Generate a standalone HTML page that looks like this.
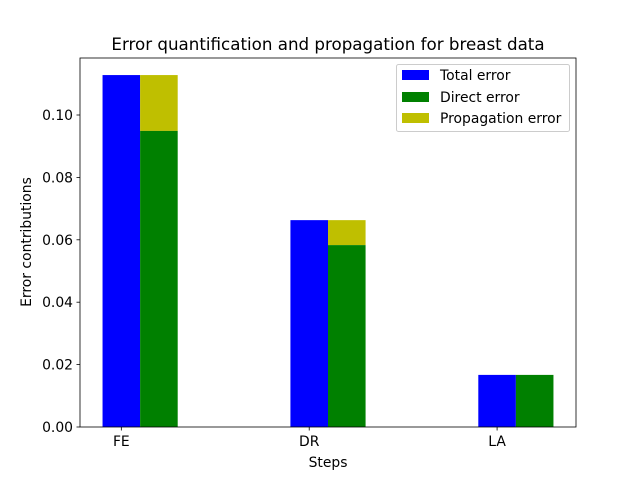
<!DOCTYPE html>
<html><head><meta charset="utf-8"><style>body{margin:0;background:#fff}svg{display:block;font-family:"DejaVu Sans","Liberation Sans",sans-serif}</style></head>
<body>
<svg id="chart" width="640" height="480" viewBox="0 0 640 480">
<rect width="640" height="480" fill="#fff"/>
<g id="bars"></g>
<g id="axes"></g>
<text x="328" y="50" font-size="16.7" text-anchor="middle">Error quantification and propagation for breast data</text>
<text x="328" y="467" font-size="13.9" text-anchor="middle">Steps</text>
<text x="31" y="242" font-size="13.9" text-anchor="middle" transform="rotate(-90 31 242)">Error contributions</text>
<g>
<rect x="396.5" y="64.5" width="173" height="67" rx="2" fill="#fff" fill-opacity="0.8" stroke="#ccc"/>
<rect x="402" y="70" width="27" height="10" fill="#0000ff"/>
<text x="440" y="80" font-size="13.9">Total error</text>
<rect x="402" y="92" width="27" height="10" fill="#008000"/>
<text x="440" y="102" font-size="13.9">Direct error</text>
<rect x="402" y="113" width="27" height="10" fill="#bfbf00"/>
<text x="440" y="123" font-size="13.9">Propagation error</text>
</g>
</svg>
<script>
const categories = ["FE","DR","LA"];
const totalError = [0.1128, 0.0663, 0.0167];
const directError = [0.0949, 0.0583, 0.0167];
const yTicks = [0.00,0.02,0.04,0.06,0.08,0.10];
const yTickLabels = ["0.00","0.02","0.04","0.06","0.08","0.10"];
const NS="http://www.w3.org/2000/svg";
const L=80,R=576,T=58,B=427;
const xMin=-0.22,xMax=2.42,yMax=(B-T)/3120;
const xs=v=>L+(v-xMin)/(xMax-xMin)*(R-L);
const ys=v=>B-v/yMax*(B-T);
const bars=document.getElementById('bars'),axes=document.getElementById('axes');
function mk(tag,a,p){const e=document.createElementNS(NS,tag);for(const k in a)e.setAttribute(k,a[k]);p.appendChild(e);return e;}
const w=0.2;
categories.forEach((c,i)=>{
  let x0=xs(i-w/2),x1=xs(i+w/2);
  let r=mk('rect',{x:x0,y:ys(totalError[i]),width:x1-x0,height:ys(0)-ys(totalError[i]),fill:'#0000ff'},bars);
  
  
  let g0=xs(i+w/2),g1=xs(i+1.5*w);
  let p=mk('rect',{x:g0,y:ys(totalError[i]),width:g1-g0,height:ys(directError[i])-ys(totalError[i]),fill:'#bfbf00'},bars);
  
  
  let d=mk('rect',{x:g0,y:ys(directError[i]),width:g1-g0,height:ys(0)-ys(directError[i]),fill:'#008000'},bars);
  
  
  let tx=xs(i);
  mk('line',{x1:tx,x2:tx,y1:B,y2:B+3.5,stroke:'#000','stroke-width':0.8},axes);
  let t=mk('text',{x:tx,y:B+19,'font-size':13.9,'text-anchor':'middle'},axes);t.textContent=c;
  
  
});
yTicks.forEach((v,i)=>{
  let y=ys(v);
  mk('line',{x1:L-3.5,x2:L,y1:y,y2:y,stroke:'#000','stroke-width':0.8},axes);
  let t=mk('text',{x:L-7,y:y+5,'font-size':13.9,'text-anchor':'end'},axes);t.textContent=yTickLabels[i];
  
  
});
let f=mk('rect',{x:L,y:T,width:R-L,height:B-T,fill:'none',stroke:'#000','stroke-width':0.8},axes);


</script>
</body></html>
